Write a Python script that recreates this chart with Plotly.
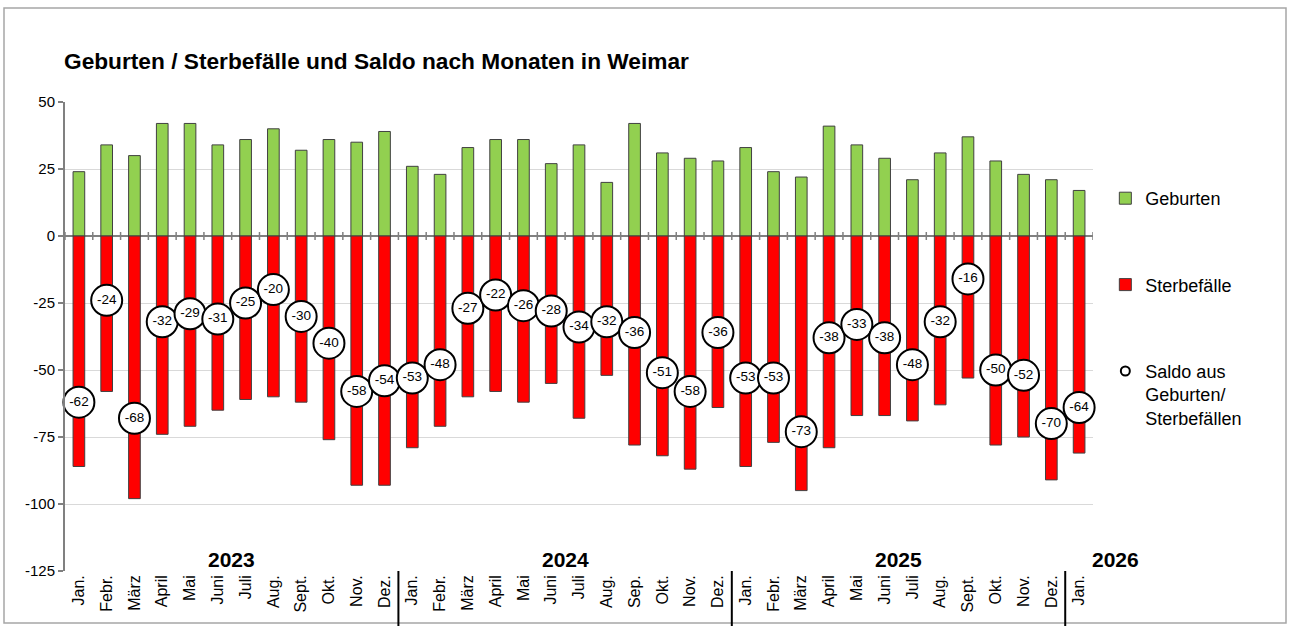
import plotly.graph_objects as go

months = ["Jan.", "Febr.", "März", "April", "Mai", "Juni", "Juli", "Aug.", "Sept.", "Okt.", "Nov.", "Dez.",
          "Jan.", "Febr.", "März", "April", "Mai", "Juni", "Juli", "Aug.", "Sep.", "Okt.", "Nov.", "Dez.",
          "Jan.", "Febr.", "März", "April", "Mai", "Juni", "Juli", "Aug.", "Sept.", "Okt.", "Nov.", "Dez.",
          "Jan."]
years = ["2023", "2024", "2025", "2026"]
year_first_index = [0, 12, 24, 36]

geburten = [24, 34, 30, 42, 42, 34, 36, 40, 32, 36, 35, 39,
            26, 23, 33, 36, 36, 27, 34, 20, 42, 31, 29, 28,
            33, 24, 22, 41, 34, 29, 21, 31, 37, 28, 23, 21,
            17]
sterbefaelle = [86, 58, 98, 74, 71, 65, 61, 60, 62, 76, 93, 93,
                79, 71, 60, 58, 62, 55, 68, 52, 78, 82, 87, 64,
                86, 77, 95, 79, 67, 67, 69, 63, 53, 78, 75, 91,
                81]
saldo = [-62, -24, -68, -32, -29, -31, -25, -20, -30, -40, -58, -54,
         -53, -48, -27, -22, -26, -28, -34, -32, -36, -51, -58, -36,
         -53, -53, -73, -38, -33, -38, -48, -32, -16, -50, -52, -70,
         -64]
y_tickvals = [50, 25, 0, -25, -50, -75, -100, -125]
y_ticktext = ["50", "25", "0", "-25", "-50", "-75", "-100", "-125"]

n = len(months)
xs = list(range(n))
FONT = "Liberation Sans, Arial, sans-serif"

W, H = 1290, 626
L, R, T, B = 65, 197, 102, 55
plot_w = W - L - R
plot_h = H - T - B

def px_x(p):
    return (p - L) / plot_w

def px_y(p):
    return (H - B - p) / plot_h

fig = go.Figure()
fig.add_trace(go.Bar(x=xs, y=geburten, name="Geburten", width=0.42,
                     marker=dict(color="#92D050", line=dict(color="#404040", width=1)),
                     legendgroup="a", hoverinfo="skip"))
fig.add_trace(go.Bar(x=xs, y=[-v for v in sterbefaelle], name="Sterbefälle", width=0.42,
                     marker=dict(color="#FF0000", line=dict(color="#404040", width=1)),
                     legendgroup="b", hoverinfo="skip"))
fig.add_trace(go.Scatter(x=xs, y=saldo, mode="markers+text", text=[str(v) for v in saldo],
                         textposition="middle center",
                         textfont=dict(family=FONT, size=13.5, color="black"),
                         marker=dict(size=31, color="white", line=dict(color="black", width=2)),
                         showlegend=False, hoverinfo="skip", cliponaxis=False))
fig.add_trace(go.Scatter(x=[None], y=[None], mode="markers",
                         name="Saldo aus<br>Geburten/<br>Sterbefällen",
                         marker=dict(size=9, color="white", line=dict(color="black", width=2)),
                         legendgroup="c"))

shapes = []
# outer frame
shapes.append(dict(type="rect", xref="paper", yref="paper",
                   x0=px_x(4), x1=px_x(1286), y0=px_y(623), y1=px_y(8),
                   line=dict(color="#A6A6A6", width=1.5), layer="below"))
# tick marks on the zero line
for k in range(n + 1):
    shapes.append(dict(type="line", xref="x", yref="y", x0=k - 0.5, x1=k - 0.5,
                       ysizemode="pixel", yanchor=0, y0=-4, y1=4,
                       line=dict(color="#808080", width=1.5)))
# year separators
for idx in year_first_index[1:]:
    shapes.append(dict(type="line", xref="x", yref="paper", x0=idx - 0.5, x1=idx - 0.5,
                       y0=0, y1=px_y(626), line=dict(color="black", width=2)))

annotations = []
for i, yr in enumerate(years):
    start = year_first_index[i]
    if i + 1 < len(years):
        end = year_first_index[i + 1] - 1
        annotations.append(dict(x=(start + end) / 2, y=-125, xref="x", yref="y", text=f"<b>{yr}</b>",
                                showarrow=False, xanchor="center", yanchor="bottom", yshift=-2,
                                font=dict(family=FONT, size=21, color="black")))
    else:
        annotations.append(dict(x=px_x(1115), y=0, xref="paper", yref="paper", text=f"<b>{yr}</b>",
                                showarrow=False, xanchor="center", yanchor="bottom", yshift=-2,
                                font=dict(family=FONT, size=21, color="black")))

fig.update_layout(
    width=W, height=H,
    margin=dict(l=L, r=R, t=T, b=B),
    paper_bgcolor="white", plot_bgcolor="white",
    barmode="overlay",
    title=dict(text="<b>Geburten / Sterbefälle und Saldo nach Monaten in Weimar</b>",
               x=64 / W, xanchor="left", xref="container",
               y=1 - 61 / H, yanchor="middle", yref="container",
               font=dict(family=FONT, size=22.7, color="black")),
    xaxis=dict(range=[-0.5, n - 0.5], tickmode="array", tickvals=xs, ticktext=months,
               tickangle=-90, showgrid=False, zeroline=False, showline=False, ticks="",
               tickfont=dict(family=FONT, size=16, color="black")),
    yaxis=dict(range=[-125, 50], tickmode="array", tickvals=y_tickvals, ticktext=y_ticktext,
               showgrid=True, gridcolor="#D9D9D9", gridwidth=1,
               zeroline=True, zerolinecolor="#808080", zerolinewidth=2,
               showline=True, linecolor="#808080", linewidth=2,
               ticks="outside", ticklen=5, tickcolor="#808080", tickwidth=1.5,
               tickfont=dict(family=FONT, size=15, color="black")),
    legend=dict(x=1.012, xanchor="left", y=px_y(180), yanchor="top", tracegroupgap=60,
                valign="top", font=dict(family=FONT, size=18, color="black"),
                bgcolor="rgba(0,0,0,0)"),
    shapes=shapes,
    annotations=annotations,
)

fig.write_html("out.html", config={"displayModeBar": False},
               post_script="document.body.style.margin='0px';")
